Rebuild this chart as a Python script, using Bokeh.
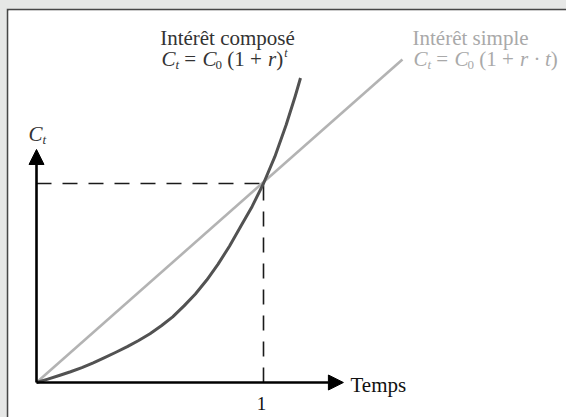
from bokeh.plotting import figure
from bokeh.models import Label, Arrow, NormalHead, Range1d
from bokeh.embed import file_html
from bokeh.resources import INLINE

# ---------------- data ----------------
# compound interest curve (t, normalised capital; C0 -> 0, value at t=1 -> 1)
t_compose = [0.0, 0.05, 0.1, 0.15, 0.2, 0.25, 0.3, 0.35, 0.4, 0.45, 0.5, 0.55, 0.6,
             0.65, 0.7, 0.75, 0.8, 0.85, 0.9, 0.95, 1.0, 1.05, 1.1, 1.14, 1.163]
c_compose = [0.0, 0.017, 0.035, 0.054, 0.075, 0.099, 0.125, 0.152, 0.18, 0.211, 0.245, 0.285, 0.33,
             0.385, 0.445, 0.515, 0.595, 0.685, 0.785, 0.885, 1.0, 1.135, 1.295, 1.44, 1.53]
# simple interest straight line
t_simple = [0.0, 1.612]
c_simple = [0.0, 1.623]
# marked point
t_mark = 1.0
c_mark = 1.0
# axis extents
t_axis_end = 1.352
c_axis_end = 1.171
x_axis_label = "Temps"
x_tick_label = "1"
title_compose = "Intérêt composé"
title_simple = "Intérêt simple"

# ---------------- layout helpers ----------------
PX0, PY0 = 36.0, 382.0      # page position of origin
SX, SY = 227.0, 199.0       # pixels per unit
FX0, FY0 = 8.0, 10.0        # page position of the plot frame's top-left


def X(px):
    return (px - PX0) / SX


def Y(py):
    return (PY0 - py) / SY


SERIF = "Liberation Serif"
DARK = "#333333"
LIGHT = "#a9a9a9"
CURVE = "#525252"
LINE = "#b3b3b3"

p = figure(width=560, height=409, output_backend="svg", toolbar_location=None,
           x_axis_location=None, y_axis_location=None,
           x_range=Range1d(X(FX0), X(566)), y_range=Range1d(Y(417), Y(FY0)),
           min_border_left=2, min_border_top=2, min_border_right=0, min_border_bottom=0,
           border_fill_color="#474747", background_fill_color="white",
           outline_line_color=None)
p.xgrid.visible = False
p.ygrid.visible = False

try:
    from bokeh.models import GlobalInlineStyleSheet
    p.stylesheets = [GlobalInlineStyleSheet(
        css="html, body {background:#e6e7e6 !important;} body {padding:8px 0 0 6px !important; margin:0 !important; overflow:hidden;}")]
except Exception:
    pass

# dashed guides
p.line([0, t_mark], [c_mark, c_mark], line_color="#1a1a1a", line_width=1.6, line_dash="15 11")
p.line([t_mark, t_mark], [0, c_mark], line_color="#1a1a1a", line_width=1.6, line_dash="15 11")

# curves
p.line(t_simple, c_simple, line_color=LINE, line_width=2.6)
p.line(t_compose, c_compose, line_color=CURVE, line_width=3.0, line_join="round")

# axes as arrows
for xe, ye in [(t_axis_end, 0), (0, c_axis_end)]:
    p.add_layout(Arrow(end=NormalHead(size=15, fill_color="black", line_color="black", line_width=1),
                       x_start=0, y_start=0, x_end=xe, y_end=ye,
                       line_color="black", line_width=2.6))

# metrics (em widths, Times)
RM = {' ': 0.25, '=': 0.564, '(': 0.333, ')': 0.333, '1': 0.5, '+': 0.564, '0': 0.5, '·': 0.25}
IT = {'C': 0.667, 't': 0.278, 'r': 0.389, ' ': 0.25}


def width(text, italic, size):
    tbl = IT if italic else RM
    return sum(tbl.get(ch, 0.5) for ch in text) * size + (1.0 if italic else 0.0)


def lab(px, py, text, size, color, italic=False, align="left"):
    # empirical correction: the label's rendered baseline sits ~0.36 em lower
    py = py - 0.36 * size
    p.add_layout(Label(x=X(px), y=Y(py), text=text, text_font=SERIF,
                       text_font_size=f"{size}px", text_color=color,
                       text_font_style="italic" if italic else "normal",
                       text_align=align, text_baseline="alphabetic"))


def formula(px, py, pieces, color):
    x = px
    for text, italic, size, dy, dx in pieces:
        lead = len(text) - len(text.lstrip(' '))
        core = text.strip(' ')
        x += dx
        if core:
            lab(x + width(' ' * lead, italic, size) - (1.0 if italic and lead else 0.0),
                py + dy, core, size, color, italic)
        x += width(text, italic, size)


FS = 21
SUB = 13
compose_pieces = [("C", True, FS, 0, 0), ("t", True, SUB, 3, -1), (" = ", False, FS, 0, 0),
                  ("C", True, FS, 0, 0), ("0", False, SUB, 3, -1), (" (1 + ", False, FS, 0, 0),
                  ("r", True, FS, 0, 0), (")", False, FS, 0, 0), ("t", True, 12, -9, 0)]
simple_pieces = [("C", True, FS, 0, 0), ("t", True, SUB, 3, -1), (" = ", False, FS, 0, 0),
                 ("C", True, FS, 0, 0), ("0", False, SUB, 3, -1), (" (1 + ", False, FS, 0, 0),
                 ("r", True, FS, 0, 0), (" · ", False, FS, 0, 0), ("t", True, FS, 0, 0),
                 (")", False, FS, 0, 0)]

lab(227, 45, title_compose, FS, DARK, align="center")
formula(160, 66, compose_pieces, DARK)
lab(412, 45, title_simple, FS, LIGHT)
formula(412, 66, simple_pieces, LIGHT)

lab(350, 392, x_axis_label, FS, "#111111")
lab(261, 410, x_tick_label, 19, "#111111", align="center")
formula(27, 141, [("C", True, FS, 0, 0), ("t", True, SUB, 3, -1)], "#333333")

open("out.html", "w").write(file_html(p, INLINE))
